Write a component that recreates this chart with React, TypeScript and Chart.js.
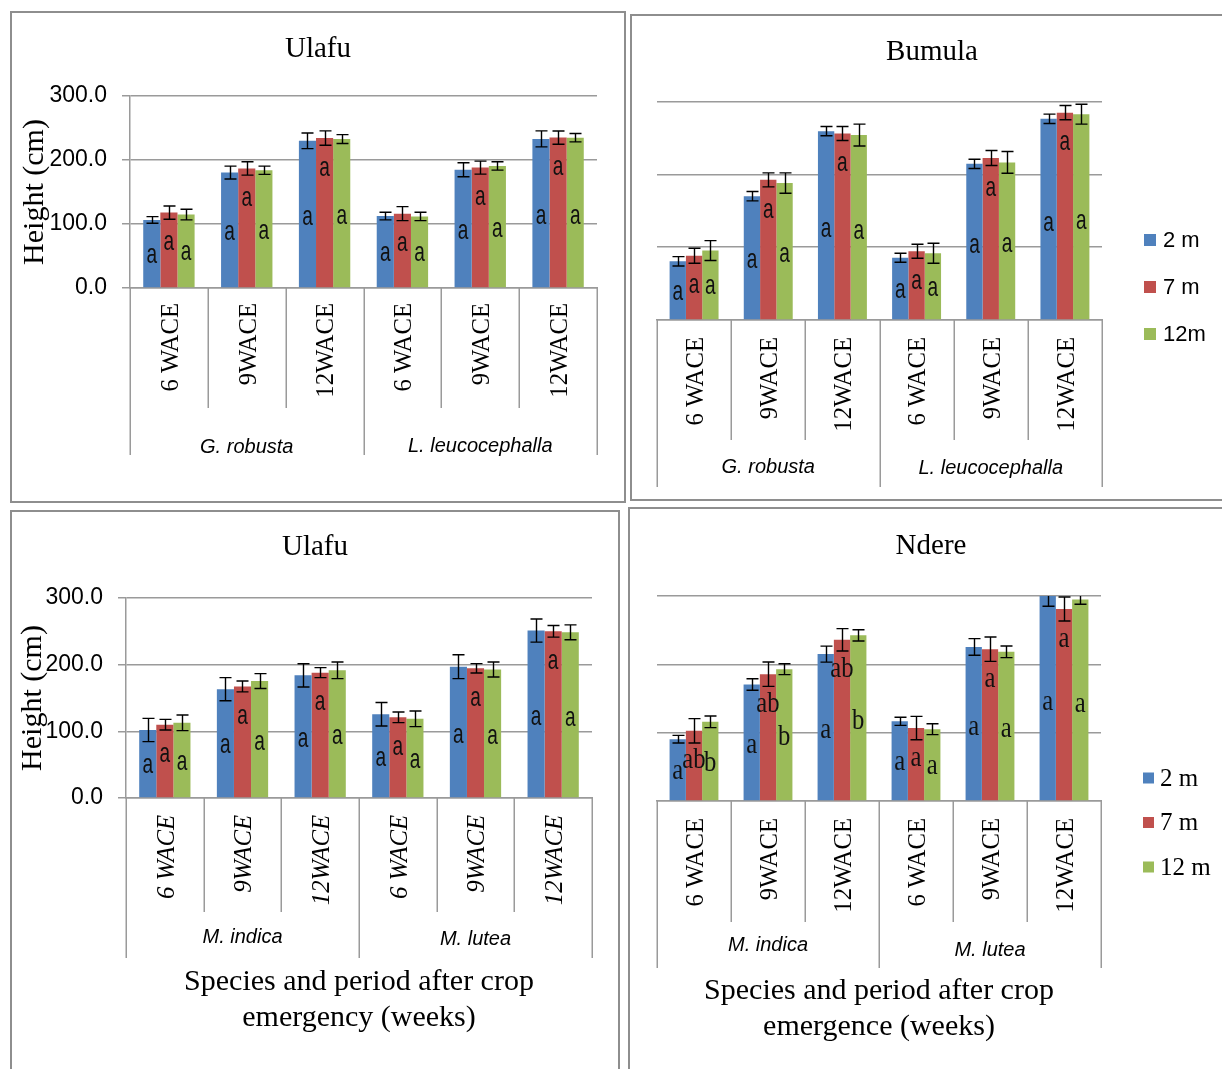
import React, { useEffect, useRef } from "react";
import { Chart, registerables } from "chart.js";

Chart.register(...registerables);

// ---------------- categories, labels ----------------
const periodLabels = ["6 WACE", "9WACE", "12WACE", "6 WACE", "9WACE", "12WACE"];
const speciesTop = ["G. robusta", "L. leucocephalla"];
const speciesBottom = ["M. indica", "M. lutea"];
const seriesNamesA = ["2 m", "7 m", "12m"];
const seriesNamesB = ["2 m", "7 m", "12 m"];
const yTickStep = 100;
const yMax = 300;
const xTitleLines = {
  ulafu: ["Species and period after crop", "emergency (weeks)"],
  ndere: ["Species and period after crop", "emergence (weeks)"],
};

// ---------------- Panel 1: Ulafu (G. robusta / L. leucocephalla) ----------------
const ulafuA_2m = [106.4, 180.3, 230.0, 112.4, 184.7, 233.0];
const ulafuA_7m = [117.8, 186.8, 234.3, 116.2, 188.1, 235.0];
const ulafuA_12m = [114.7, 184.0, 232.7, 111.8, 190.7, 234.8];
const ulafuA_err2m = [5.2, 10.1, 12.2, 6.0, 10.9, 12.5];
const ulafuA_err7m = [10.4, 10.4, 11.2, 10.9, 10.1, 10.4];
const ulafuA_err12m = [8.3, 6.5, 7.0, 6.5, 6.5, 6.5];
const ulafuA_let2m = ["a", "a", "a", "a", "a", "a"];
const ulafuA_let7m = ["a", "a", "a", "a", "a", "a"];
const ulafuA_let12m = ["a", "a", "a", "a", "a", "a"];

// ---------------- Panel 2: Bumula (G. robusta / L. leucocephalla) ----------------
const bumula_2m = [80.6, 170.0, 259.3, 85.4, 214.4, 276.2];
const bumula_7m = [88.2, 192.4, 256.0, 94.4, 222.4, 284.7];
const bumula_12m = [95.3, 188.0, 254.0, 91.6, 216.4, 282.6];
const bumula_err2m = [6.4, 6.4, 6.4, 6.2, 6.4, 6.4];
const bumula_err7m = [10.3, 9.6, 9.6, 9.6, 10.3, 9.8];
const bumula_err12m = [13.7, 14.0, 15.0, 13.7, 14.9, 13.7];
const bumula_let2m = ["a", "a", "a", "a", "a", "a"];
const bumula_let7m = ["a", "a", "a", "a", "a", "a"];
const bumula_let12m = ["a", "a", "a", "a", "a", "a"];

// ---------------- Panel 3: Ulafu (M. indica / M. lutea) ----------------
const ulafuB_2m = [102.0, 163.2, 184.0, 125.6, 197.0, 251.2];
const ulafuB_7m = [110.0, 167.4, 188.0, 121.0, 194.5, 250.0];
const ulafuB_12m = [112.7, 175.4, 191.5, 118.7, 192.8, 248.5];
const ulafuB_err2m = [17.4, 17.4, 17.4, 17.7, 17.9, 17.4];
const ulafuB_err7m = [8.0, 8.2, 7.5, 8.0, 7.0, 8.7];
const ulafuB_err12m = [11.7, 11.2, 12.4, 11.7, 11.2, 11.2];
const ulafuB_let2m = ["a", "a", "a", "a", "a", "a"];
const ulafuB_let7m = ["a", "a", "a", "a", "a", "a"];
const ulafuB_let12m = ["a", "a", "a", "a", "a", "a"];

// ---------------- Panel 4: Ndere (M. indica / M. lutea) ----------------
const ndere_2m = [90.5, 170.5, 215.0, 116.6, 225.4, 302.0];
const ndere_7m = [102.7, 185.6, 235.9, 106.8, 222.2, 281.0];
const ndere_12m = [115.9, 192.9, 242.4, 105.1, 218.3, 295.0];
const ndere_err2m = [5.6, 8.5, 11.7, 5.9, 12.2, 17.0];
const ndere_err7m = [17.8, 17.8, 16.3, 17.1, 17.8, 17.6];
const ndere_err12m = [8.5, 8.0, 8.3, 8.0, 8.5, 7.0];
const ndere_let2m = ["a", "a", "a", "a", "a", "a"];
const ndere_let7m = ["ab", "ab", "ab", "a", "a", "a"];
const ndere_let12m = ["b", "b", "b", "a", "a", "a"];

// ---------------- styling ----------------
const barColors = ["#4F81BD", "#C0504D", "#9BBB59"];
const axisColor = "#9a9a9a";
const SERIF = "'Liberation Serif', 'Times New Roman', serif";
const SANS = "'Liberation Sans', Arial, sans-serif";

type Series = { name: string; values: number[]; errors: number[]; letters: string[] };
type PanelCfg = {
  key: string;
  box: { left: number; top: number; width: number; height: number };
  title: string;
  titlePad: [number, number];
  yWidth: number;
  rightWidth: number;
  xHeight: number;
  showY: boolean;
  yTitlePad: number;
  xTitle?: string[];
  xTitlePad?: number;
  labelGap: number;
  innerDrop: number;
  outerDrop: number;
  groupDrops: number[];
  groups: string[];
  catFont: string;
  groupFont: string;
  letterFont: string;
  letterScaleX: number;
  legend?: { dx: number; y0: number; step: number; size: number; font: string; gap: number };
  series: Series[];
};

function mkSeries(names: string[], vals: number[][], errs: number[][], lets: string[][]): Series[] {
  return names.map((n, i) => ({ name: n, values: vals[i], errors: errs[i], letters: lets[i] }));
}

const panels: PanelCfg[] = [
  {
    key: "p1",
    box: { left: 10, top: 11, width: 616, height: 492 },
    title: "Ulafu",
    titlePad: [18.6, 29.6],
    yWidth: 118,
    rightWidth: 27,
    xHeight: 213,
    showY: true,
    yTitlePad: 5,
    labelGap: 15,
    innerDrop: 120,
    outerDrop: 167,
    groupDrops: [159, 158],
    groups: speciesTop,
    catFont: `26px ${SERIF}`,
    groupFont: `italic 20px ${SANS}`,
    letterFont: `28px ${SANS}`,
    letterScaleX: 0.68,
    series: mkSeries(
      seriesNamesA,
      [ulafuA_2m, ulafuA_7m, ulafuA_12m],
      [ulafuA_err2m, ulafuA_err7m, ulafuA_err12m],
      [ulafuA_let2m, ulafuA_let7m, ulafuA_let12m]
    ),
  },
  {
    key: "p2",
    box: { left: 630, top: 14, width: 604, height: 487 },
    title: "Bumula",
    titlePad: [18.6, 32.1],
    yWidth: 25,
    rightWidth: 130,
    xHeight: 179,
    showY: false,
    yTitlePad: 0,
    labelGap: 17,
    innerDrop: 120,
    outerDrop: 167,
    groupDrops: [147, 148],
    groups: speciesTop,
    catFont: `26px ${SERIF}`,
    groupFont: `italic 20px ${SANS}`,
    letterFont: `28px ${SANS}`,
    letterScaleX: 0.68,
    legend: { dx: 42, y0: 138.5, step: 47, size: 12, font: `22px ${SANS}`, gap: 7 },
    series: mkSeries(
      seriesNamesA,
      [bumula_2m, bumula_7m, bumula_12m],
      [bumula_err2m, bumula_err7m, bumula_err12m],
      [bumula_let2m, bumula_let7m, bumula_let12m]
    ),
  },
  {
    key: "p3",
    box: { left: 10, top: 510, width: 610, height: 570 },
    title: "Ulafu",
    titlePad: [17.6, 33.6],
    yWidth: 114,
    rightWidth: 26,
    xHeight: 280,
    showY: true,
    yTitlePad: 3,
    xTitle: xTitleLines.ulafu,
    xTitlePad: 42,
    labelGap: 17,
    innerDrop: 114,
    outerDrop: 160,
    groupDrops: [139, 141],
    groups: speciesBottom,
    catFont: `italic 26px ${SERIF}`,
    groupFont: `italic 20px ${SANS}`,
    letterFont: `28px ${SANS}`,
    letterScaleX: 0.68,
    series: mkSeries(
      seriesNamesA,
      [ulafuB_2m, ulafuB_7m, ulafuB_12m],
      [ulafuB_err2m, ulafuB_err7m, ulafuB_err12m],
      [ulafuB_let2m, ulafuB_let7m, ulafuB_let12m]
    ),
  },
  {
    key: "p4",
    box: { left: 628, top: 507, width: 606, height: 573 },
    title: "Ndere",
    titlePad: [19.6, 32.6],
    yWidth: 27,
    rightWidth: 131,
    xHeight: 277,
    showY: false,
    yTitlePad: 0,
    xTitle: xTitleLines.ndere,
    xTitlePad: 33,
    labelGap: 17,
    innerDrop: 121,
    outerDrop: 167,
    groupDrops: [144, 149],
    groups: speciesBottom,
    catFont: `26px ${SERIF}`,
    groupFont: `italic 20px ${SANS}`,
    letterFont: `29px ${SERIF}`,
    letterScaleX: 0.85,
    legend: { dx: 42, y0: 182, step: 44.5, size: 11, font: `25px ${SERIF}`, gap: 6 },
    series: mkSeries(
      seriesNamesB,
      [ndere_2m, ndere_7m, ndere_12m],
      [ndere_err2m, ndere_err7m, ndere_err12m],
      [ndere_let2m, ndere_let7m, ndere_let12m]
    ),
  },
];

function buildConfig(cfg: PanelCfg): any {
  const decor = {
    id: "decor_" + cfg.key,
    afterDatasetsDraw(chart: any) {
      const { ctx, chartArea: a } = chart;
      const y = chart.scales.y;
      // error bars
      ctx.save();
      ctx.beginPath();
      ctx.rect(a.left, a.top, a.right - a.left, a.bottom - a.top);
      ctx.clip();
      ctx.strokeStyle = "#000";
      ctx.lineWidth = 1.4;
      cfg.series.forEach((s, i) => {
        const meta = chart.getDatasetMeta(i);
        meta.data.forEach((el: any, j: number) => {
          const x = Math.round(el.x) + 0.5;
          const yt = y.getPixelForValue(s.values[j] + s.errors[j]);
          const yb = y.getPixelForValue(s.values[j] - s.errors[j]);
          ctx.beginPath();
          ctx.moveTo(x, yt);
          ctx.lineTo(x, yb);
          ctx.moveTo(x - 6, yt);
          ctx.lineTo(x + 6, yt);
          ctx.moveTo(x - 6, yb);
          ctx.lineTo(x + 6, yb);
          ctx.stroke();
        });
      });
      ctx.restore();
      // significance letters
      ctx.save();
      ctx.fillStyle = "#111";
      ctx.font = cfg.letterFont;
      ctx.textAlign = "center";
      ctx.textBaseline = "middle";
      cfg.series.forEach((s, i) => {
        const meta = chart.getDatasetMeta(i);
        meta.data.forEach((el: any, j: number) => {
          const py = i === 1 ? y.getPixelForValue(s.values[j]) + 30 : y.getPixelForValue(s.values[j] * 0.48);
          ctx.save();
          ctx.translate(el.x, py);
          ctx.scale(cfg.letterScaleX, 1);
          ctx.fillText(s.letters[j], 0, 0);
          ctx.restore();
        });
      });
      ctx.restore();
    },
    afterDraw(chart: any) {
      const { ctx, chartArea: a } = chart;
      const xs = chart.scales.x;
      const labels: string[] = chart.data.labels;
      const n = labels.length;
      const w = xs.getPixelForValue(1) - xs.getPixelForValue(0);
      const edge = (k: number) => xs.getPixelForValue(0) - w / 2 + k * w;
      ctx.save();
      ctx.strokeStyle = axisColor;
      ctx.lineWidth = 1.5;
      for (let k = 0; k <= n; k++) {
        const x = Math.round(edge(k)) + 0.25;
        const drop = k % 3 === 0 ? cfg.outerDrop : cfg.innerDrop;
        ctx.beginPath();
        ctx.moveTo(x, a.bottom);
        ctx.lineTo(x, a.bottom + drop);
        ctx.stroke();
      }
      ctx.fillStyle = "#000";
      ctx.font = cfg.catFont;
      labels.forEach((lab, k) => {
        const cx = xs.getPixelForValue(k) + 2;
        ctx.save();
        ctx.translate(cx, a.bottom + cfg.labelGap);
        ctx.rotate(-Math.PI / 2);
        ctx.scale(0.95, 1);
        ctx.textAlign = "right";
        ctx.textBaseline = "middle";
        ctx.fillText(lab, 0, 0);
        ctx.restore();
      });
      ctx.font = cfg.groupFont;
      ctx.textAlign = "center";
      ctx.textBaseline = "middle";
      cfg.groups.forEach((g, gi) => {
        const cx = (edge(gi * 3) + edge(gi * 3 + 3)) / 2;
        ctx.fillText(g, cx, a.bottom + cfg.groupDrops[gi]);
      });
      // legend
      if (cfg.legend) {
        const L = cfg.legend;
        ctx.font = L.font;
        ctx.textAlign = "left";
        ctx.textBaseline = "middle";
        chart.data.datasets.forEach((ds: any, i: number) => {
          const cy = a.top + L.y0 + i * L.step;
          const lx = a.right + L.dx;
          ctx.fillStyle = ds.backgroundColor;
          ctx.fillRect(lx, cy - L.size / 2, L.size, L.size);
          ctx.fillStyle = "#000";
          ctx.fillText(ds.label, lx + L.size + L.gap, cy + 1);
        });
      }
      ctx.restore();
    },
  };

  return {
    type: "bar",
    data: {
      labels: periodLabels,
      datasets: cfg.series.map((s, i) => ({
        label: s.name,
        data: s.values,
        backgroundColor: barColors[i],
        borderWidth: 0,
        categoryPercentage: 0.66,
        barPercentage: 1,
      })),
    },
    options: {
      animation: false,
      responsive: false,
      maintainAspectRatio: false,
      events: [],
      layout: { padding: 0 },
      plugins: {
        legend: { display: false },
        tooltip: { enabled: false },
        title: {
          display: true,
          text: cfg.title,
          color: "#000",
          font: { family: SERIF, size: 29, weight: "normal", lineHeight: 1.2 },
          padding: { top: cfg.titlePad[0], bottom: cfg.titlePad[1] },
        },
      },
      scales: {
        x: {
          type: "category",
          position: "bottom",
          grid: { display: false, drawTicks: false },
          ticks: { display: false },
          border: { display: true, color: axisColor, width: 1.5 },
          title: cfg.xTitle
            ? {
                display: true,
                text: cfg.xTitle,
                color: "#000",
                font: { family: SERIF, size: 30, lineHeight: 1.2 },
                padding: { top: 0, bottom: cfg.xTitlePad },
              }
            : { display: false },
          afterFit: (s: any) => {
            s.height = cfg.xHeight;
          },
        },
        y: {
          type: "linear",
          position: "left",
          min: 0,
          max: yMax,
          ticks: {
            display: cfg.showY,
            stepSize: yTickStep,
            padding: 15,
            color: "#000",
            font: { family: SANS, size: 23 },
            callback: (v: any) => Number(v).toFixed(1),
          },
          grid: {
            display: true,
            color: axisColor,
            lineWidth: 1.5,
            drawTicks: cfg.showY,
            tickLength: 8,
          },
          border: { display: cfg.showY, color: axisColor, width: 1.5 },
          title: {
            display: cfg.showY,
            text: "Height (cm)",
            color: "#000",
            font: { family: SERIF, size: 30, lineHeight: 1.2 },
            padding: { top: cfg.yTitlePad, bottom: 0 },
          },
          afterFit: (s: any) => {
            s.width = cfg.yWidth;
          },
        },
        yR: {
          type: "linear",
          position: "right",
          display: true,
          ticks: { display: false },
          grid: { display: false, drawTicks: false },
          border: { display: false },
          afterFit: (s: any) => {
            s.width = cfg.rightWidth;
          },
        },
      },
    },
    plugins: [decor],
  };
}

function Panel({ cfg }: { cfg: PanelCfg }) {
  const ref = useRef<HTMLCanvasElement | null>(null);
  const w = cfg.box.width - 4;
  const h = cfg.box.height - 4;
  useEffect(() => {
    if (!ref.current) return;
    const chart = new Chart(ref.current, buildConfig(cfg));
    return () => chart.destroy();
  }, [cfg]);
  return (
    <div
      style={{
        position: "absolute",
        left: cfg.box.left,
        top: cfg.box.top,
        width: cfg.box.width,
        height: cfg.box.height,
        border: "2px solid #8e8e8e",
        boxSizing: "border-box",
        background: "#fff",
      }}
    >
      <canvas ref={ref} width={w} height={h} style={{ display: "block", width: w, height: h }} />
    </div>
  );
}

export default function App() {
  return (
    <div
      style={{
        position: "fixed",
        left: 0,
        top: 0,
        width: 1222,
        height: 1069,
        overflow: "hidden",
        background: "#fff",
      }}
    >
      {panels.map((p) => (
        <Panel key={p.key} cfg={p} />
      ))}
    </div>
  );
}
